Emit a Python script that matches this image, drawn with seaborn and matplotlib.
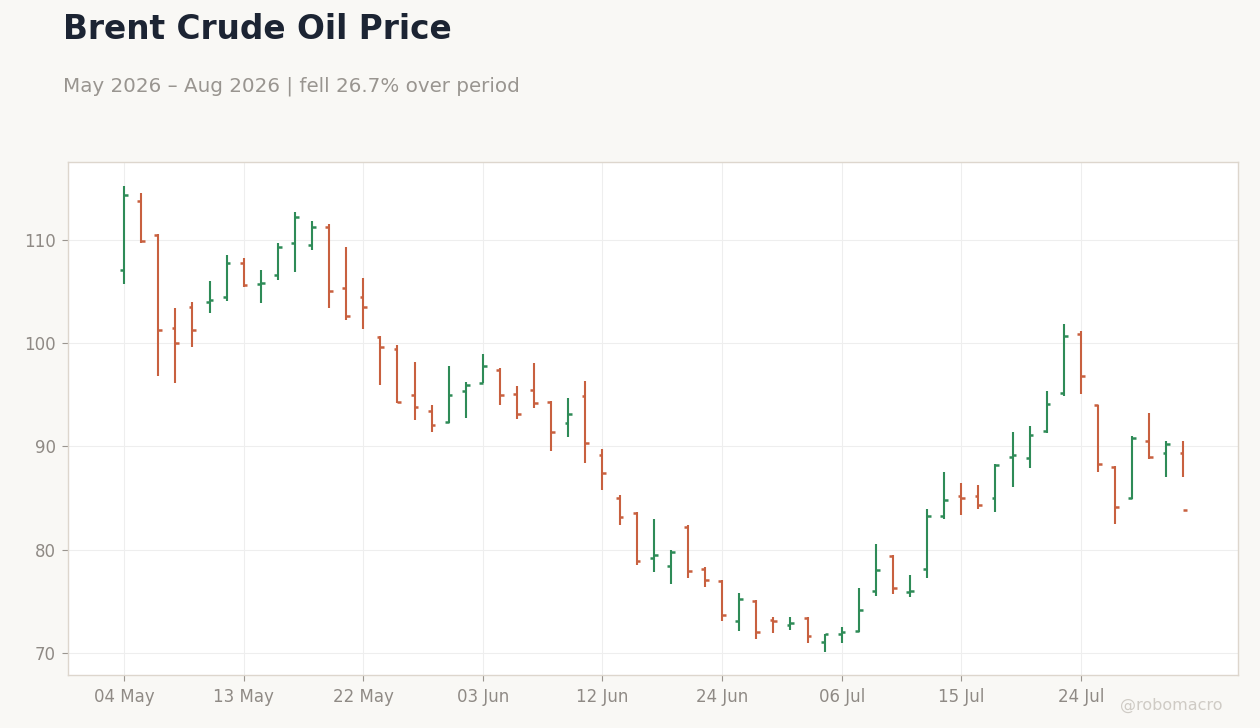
import numpy as np
import pandas as pd
import seaborn as sns
import matplotlib.pyplot as plt

# trading days, US holidays skipped (25 May, 19 Jun, 03 Jul)
dates = pd.bdate_range("2026-05-04", "2026-08-03")
dates = dates[~dates.isin(pd.to_datetime(["2026-05-25", "2026-06-19", "2026-07-03"]))]

opens = [107.1, 113.8, 110.5, 101.5, 103.5, 104.0, 104.5, 107.8, 105.7, 106.6,
         109.7, 109.5, 111.3, 105.3, 104.5, 100.6, 99.4, 95.0, 93.4, 92.4,
         95.4, 96.1, 97.4, 95.1, 95.5, 94.3, 92.3, 94.9, 89.2, 85.0,
         83.6, 79.2, 78.4, 82.2, 78.1, 77.0, 73.1, 75.0, 73.2, 72.7,
         73.4, 71.1, 71.85, 72.1, 76.0, 79.4, 75.9, 78.1, 83.3, 85.2,
         85.2, 85.0, 89.0, 88.9, 91.5, 95.2, 100.9, 94.0, 88.0, 85.0,
         90.5, 89.4, 89.4]
highs = [115.2, 114.5, 110.6, 103.4, 104.0, 106.0, 108.5, 108.3, 107.1, 109.7,
         112.7, 111.8, 111.5, 109.3, 106.3, 100.7, 99.8, 98.2, 94.0, 97.8,
         96.2, 99.0, 97.6, 95.9, 98.1, 94.4, 94.7, 96.3, 89.8, 85.3,
         83.7, 83.0, 80.0, 82.4, 78.3, 77.1, 75.8, 75.1, 73.5, 73.5,
         73.5, 71.8, 72.5, 76.3, 80.6, 79.5, 77.6, 83.9, 87.5, 86.5,
         86.3, 88.3, 91.4, 92.0, 95.4, 101.9, 101.2, 94.0, 88.1, 91.0,
         93.2, 90.5, 90.5]
lows = [105.7, 109.7, 96.8, 96.1, 99.6, 102.9, 104.1, 105.4, 103.9, 106.1,
        106.9, 109.0, 103.4, 102.2, 101.4, 96.0, 94.2, 92.6, 91.4, 92.3,
        92.8, 96.1, 94.0, 92.7, 93.7, 89.6, 90.9, 88.4, 85.8, 82.4,
        78.5, 77.8, 76.7, 77.3, 76.4, 73.1, 72.1, 71.4, 71.9, 72.2,
        71.0, 70.1, 71.0, 72.0, 75.5, 75.7, 75.4, 77.3, 83.0, 83.4,
        83.9, 83.7, 86.1, 87.9, 91.3, 94.9, 95.1, 87.5, 82.5, 84.9,
        88.8, 87.0, 87.0]
closes = [114.4, 109.9, 101.3, 100.0, 101.3, 104.2, 107.8, 105.6, 105.8, 109.3,
          112.2, 111.3, 105.1, 102.6, 103.5, 99.6, 94.3, 93.8, 92.1, 95.0,
          96.0, 97.8, 95.0, 93.1, 94.2, 91.4, 93.1, 90.3, 87.4, 83.2,
          78.9, 79.5, 79.8, 77.9, 77.1, 73.7, 75.2, 72.0, 73.1, 72.9,
          71.6, 71.8, 72.0, 74.2, 78.0, 76.3, 76.0, 83.3, 84.8, 85.0,
          84.3, 88.2, 89.2, 91.1, 94.1, 100.7, 96.8, 88.3, 84.1, 90.8,
          89.0, 90.2, 83.85]

df = pd.DataFrame({"date": dates, "open": opens, "high": highs,
                   "low": lows, "close": closes})
df["idx"] = np.arange(len(df))
df["up"] = df["close"] >= df["open"]

GREEN = "#2e8b57"
RED = "#c8603f"
BG = "#f9f8f5"

sns.set_theme(style="whitegrid")
plt.rcParams["font.family"] = ["DejaVu Sans"]

fig = plt.figure(figsize=(12.6, 7.28), dpi=100, facecolor=BG)
ax = fig.add_axes([0.054, 0.0728, 0.9286, 0.7047])
ax.set_facecolor("white")

colors = np.where(df["up"], GREEN, RED)
tick = 0.22
ax.vlines(df["idx"], df["low"], df["high"], colors=colors, lw=1.5)
ax.hlines(df["open"], df["idx"] - tick, df["idx"], colors=colors, lw=1.8)
ax.hlines(df["close"], df["idx"], df["idx"] + tick, colors=colors, lw=1.8)

ax.set_xlim(-3.28, 65.2)
ax.set_ylim(67.87, 117.55)
ax.set_yticks([70, 80, 90, 100, 110])
ticks = df["idx"][::7]
ax.set_xticks(ticks)
ax.set_xticklabels(df["date"][::7].dt.strftime("%d %b"))
ax.grid(True, color="#eeeeee", lw=0.8)
ax.tick_params(axis="both", colors="#8f8a85", labelsize=12, length=4,
               width=0.8, direction="out", bottom=True, left=True, pad=5)
ax.tick_params(axis="both", color="#9a958f")
for s in ax.spines.values():
    s.set_color("#ddd6cd")
    s.set_linewidth(1.0)
ax.set_xlabel("")
ax.set_ylabel("")

chg = (closes[-1] / closes[0] - 1) * 100
word = "fell" if chg < 0 else "rose"
fig.text(0.05, 0.947, "Brent Crude Oil Price", fontsize=23.6, fontweight="bold",
         color="#1c2433", va="baseline")
fig.text(0.05, 0.875, f"May 2026 \u2013 Aug 2026 | {word} {abs(chg):.1f}% over period",
         fontsize=14.35, color="#999590", va="baseline")
fig.text(0.97, 0.025, "@robomacro", fontsize=11.5, color="#cfcbc5", ha="right",
         va="baseline")

fig.savefig("out.png", dpi=100, facecolor=BG)
